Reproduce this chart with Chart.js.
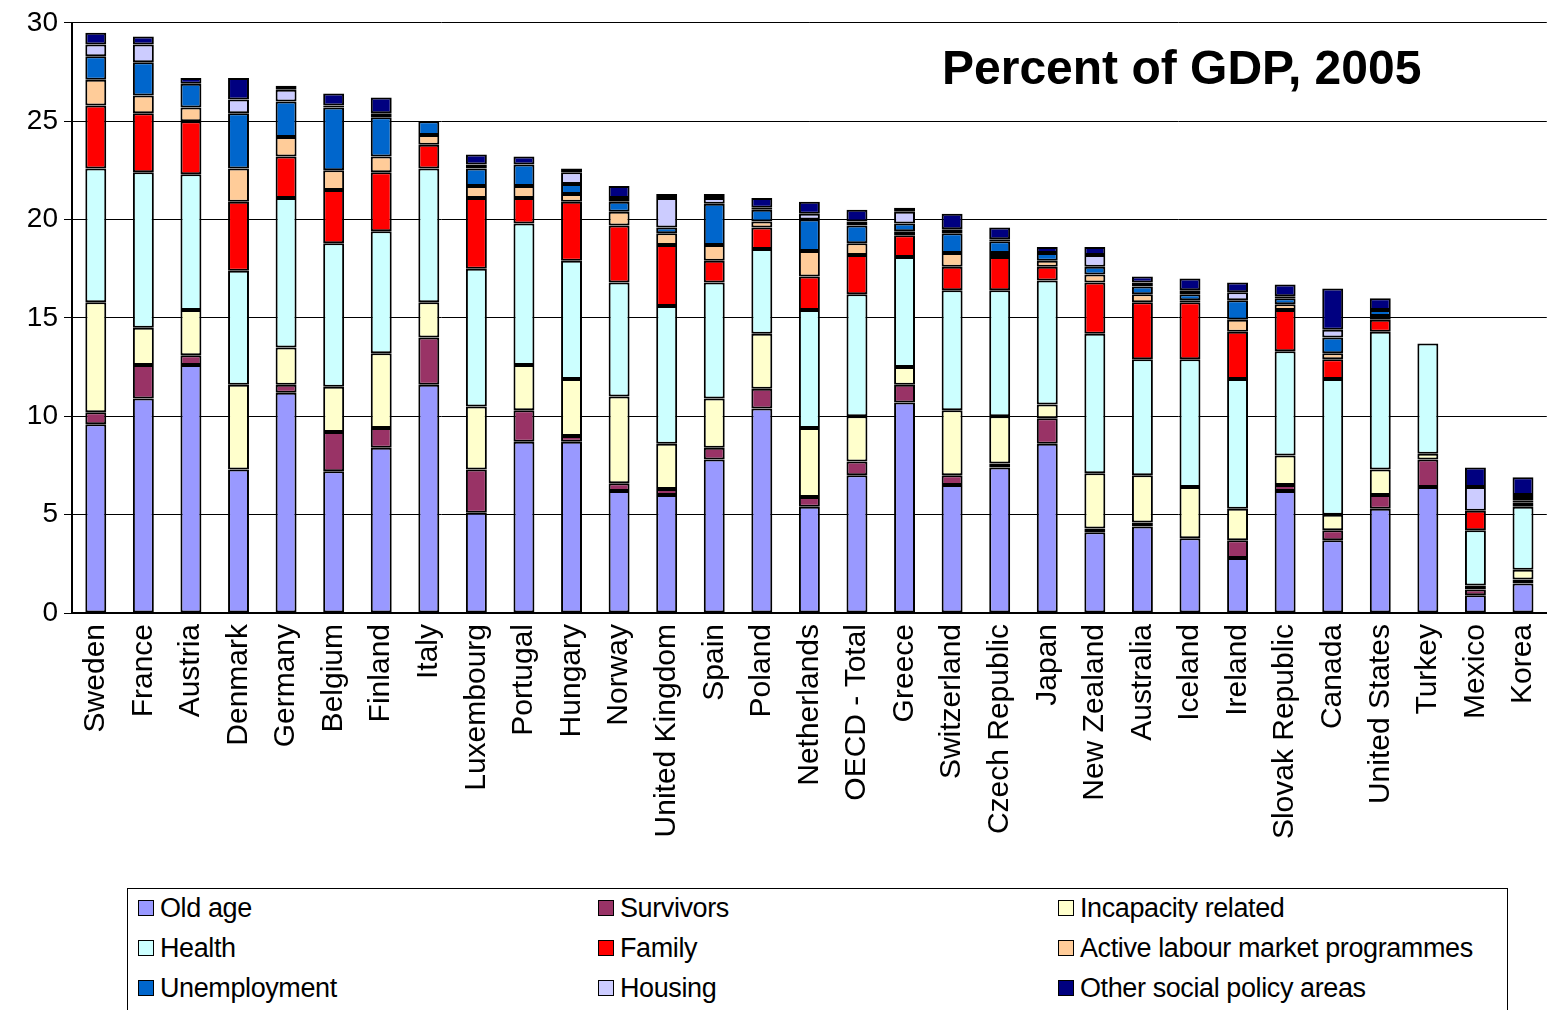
<!DOCTYPE html>
<html><head><meta charset="utf-8">
<script src="https://cdn.jsdelivr.net/npm/chart.js@4.4.0/dist/chart.umd.min.js"></script>
<style>
body{margin:0;background:#fff;font-family:"Liberation Sans",Arial,sans-serif;}
#wrap{position:relative;width:1562px;height:880px;}
#legend{position:absolute;left:127px;top:888px;width:1381px;height:140px;border:1px solid #000;box-sizing:border-box;
 display:grid;grid-template-columns:460px 460px 460px;grid-auto-rows:40px;padding:4px 0 0 10px;font-size:27px;letter-spacing:-0.4px}
#legend span.b{display:inline-block;width:14px;height:14px;border:1px solid #000;margin-right:6px;vertical-align:1px}
</style></head><body>
<div id="wrap"><canvas id="c" width="1562" height="880"></canvas></div>
<div id="legend"></div>
<script>
const countries = ['Sweden','France','Austria','Denmark','Germany','Belgium','Finland','Italy','Luxembourg','Portugal','Hungary','Norway','United Kingdom','Spain','Poland','Netherlands','OECD - Total','Greece','Switzerland','Czech Republic','Japan','New Zealand','Australia','Iceland','Ireland','Slovak Republic','Canada','United States','Turkey','Mexico','Korea'];
const oldAge      = [9.6,10.9,12.6,7.3,11.2,7.2,8.4,11.6,5.1,8.7,8.7,6.2,6.0,7.8,10.4,5.4,7.0,10.7,6.5,7.4,8.6,4.1,4.4,3.8,2.8,6.2,3.7,5.3,6.4,0.9,1.5];
const survivors   = [0.6,1.7,0.5,0.0,0.4,2.0,1.0,2.4,2.2,1.6,0.3,0.4,0.3,0.6,1.0,0.5,0.7,0.9,0.5,0.2,1.3,0.2,0.2,0.0,0.9,0.3,0.5,0.7,1.4,0.3,0.2];
const incapacity  = [5.6,1.9,2.3,4.3,1.9,2.3,3.8,1.8,3.2,2.3,2.9,4.4,2.3,2.5,2.8,3.5,2.3,0.9,3.3,2.4,0.7,2.8,2.4,2.6,1.6,1.5,0.8,1.3,0.3,0.2,0.5];
const health      = [6.8,7.9,6.9,5.8,7.6,7.3,6.2,6.8,7.0,7.2,6.0,5.8,7.0,5.9,4.3,6.0,6.2,5.6,6.1,6.4,6.3,7.1,5.9,6.5,6.6,5.3,6.9,7.0,5.6,2.8,3.2];
const family      = [3.2,3.0,2.7,3.5,2.1,2.7,3.0,1.2,3.6,1.3,3.0,2.9,3.1,1.1,1.1,1.7,2.0,1.1,1.2,1.7,0.7,2.6,2.9,2.9,2.4,2.1,1.0,0.6,0.0,1.0,0.2];
const almp        = [1.3,0.9,0.7,1.7,1.0,1.0,0.8,0.5,0.6,0.6,0.4,0.7,0.6,0.8,0.3,1.3,0.6,0.2,0.7,0.2,0.3,0.4,0.4,0.1,0.6,0.3,0.3,0.2,0.0,0.0,0.1];
const unemployment= [1.2,1.7,1.2,2.8,1.8,3.2,2.0,0.7,0.9,1.1,0.5,0.5,0.3,2.1,0.6,1.6,0.9,0.4,1.0,0.6,0.4,0.4,0.4,0.3,1.0,0.3,0.8,0.3,0.0,0.0,0.2];
const housing     = [0.6,0.9,0.0,0.7,0.6,0.1,0.2,0.0,0.2,0.0,0.6,0.2,1.5,0.3,0.1,0.3,0.2,0.6,0.2,0.1,0.0,0.6,0.2,0.2,0.4,0.1,0.4,0.0,0.0,1.2,0.1];
const other       = [0.6,0.4,0.3,1.1,0.2,0.6,0.8,0.0,0.5,0.4,0.2,0.6,0.2,0.2,0.5,0.6,0.6,0.2,0.8,0.6,0.3,0.4,0.3,0.6,0.5,0.6,2.1,0.6,0.0,1.0,0.9];
const yTicks = [0,5,10,15,20,25,30];

const series = [
  ['Old age', oldAge, '#9999ff'],
  ['Survivors', survivors, '#993366'],
  ['Incapacity related', incapacity, '#ffffcc'],
  ['Health', health, '#ccffff'],
  ['Family', family, '#ff0000'],
  ['Active labour market programmes', almp, '#ffcc99'],
  ['Unemployment', unemployment, '#0066cc'],
  ['Housing', housing, '#ccccff'],
  ['Other social policy areas', other, '#000080']
];

const titlePlugin = {
  id: 'title2',
  afterDraw(chart) {
    const ctx = chart.ctx;
    ctx.save();
    ctx.font = 'bold 48px "Liberation Sans", Arial';
    ctx.fillStyle = '#000';
    ctx.textBaseline = 'middle';
    ctx.fillText('Percent of GDP, 2005', 942, 71);
    ctx.restore();
  }
};

new Chart(document.getElementById('c'), {
  type: 'bar',
  data: {
    labels: countries,
    datasets: series.map(s => ({
      label: s[0], data: s[1], backgroundColor: s[2],
      borderColor: '#000', borderWidth: 2, borderSkipped: false,
      barPercentage: 0.44, categoryPercentage: 1
    }))
  },
  options: {
    responsive: false, animation: false,
    layout: { padding: { top: 21, right: 0, left: 0 } },
    plugins: { legend: { display: false }, tooltip: { enabled: false } },
    scales: {
      x: {
        stacked: true,
        afterFit: ax => { ax.height = 267; },
        grid: { display: false },
        border: { color: '#000', width: 2 },
        ticks: { color: '#000', font: { size: 30, family: '"Liberation Sans", Arial' }, maxRotation: 90, minRotation: 90, autoSkip: false }
      },
      y: {
        stacked: true, min: 0, max: 30,
        afterFit: ax => { ax.width = 72; },
        afterBuildTicks: ax => { ax.ticks = yTicks.map(v => ({ value: v })); },
        grid: { color: '#000', lineWidth: 1, tickLength: 8 },
        border: { color: '#000', width: 2 },
        ticks: { color: '#000', font: { size: 28, family: '"Liberation Sans", Arial' }, padding: 6 }
      }
    }
  },
  plugins: [titlePlugin]
});

const leg = document.getElementById('legend');
series.forEach(s => {
  const d = document.createElement('div');
  d.innerHTML = '<span class="b" style="background:' + s[2] + '"></span>' + s[0];
  leg.appendChild(d);
});
</script>
</body></html>
